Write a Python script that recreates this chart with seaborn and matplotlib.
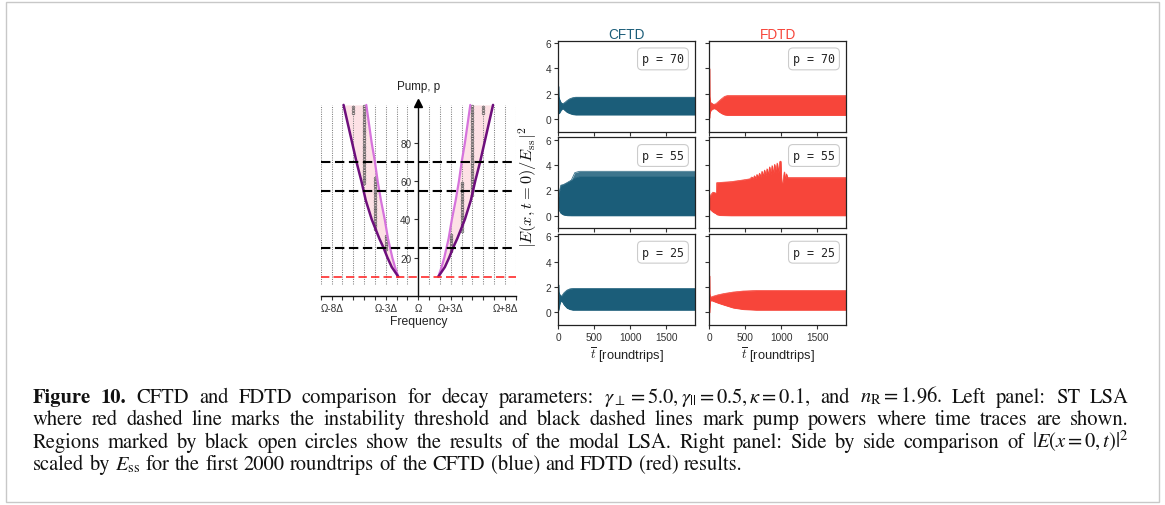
import numpy as np
import matplotlib
matplotlib.use("Agg")
import matplotlib.pyplot as plt
import seaborn as sns
from matplotlib.transforms import IdentityTransform
from matplotlib.patches import Rectangle

# ---------------- left panel: spatio-temporal LSA ----------------
pump_levels = [10, 15, 20, 25, 30, 40, 50, 60, 70, 80, 90, 100]
outer_boundary = [1.85, 2.45, 2.85, 3.2, 3.6, 4.3, 4.85, 5.25, 5.7, 6.1, 6.5, 6.9]
inner_boundary = [1.85, 2.15, 2.4, 2.6, 2.8, 3.1, 3.45, 3.75, 4.0, 4.3, 4.55, 4.8]
threshold_pump = 10
trace_pumps = [70, 55, 25]
# modal LSA unstable columns: (detuning / Delta, lowest pump, highest pump)
modal_columns = [(-6, 96, 100), (-5, 59, 100), (-4, 35, 62), (-3, 24.5, 31.5),
                 (6, 96, 100), (5, 53, 100), (4, 34, 60), (3, 23.5, 32)]
modal_pump_step = 1.4
freq_ticks = list(range(-9, 10))
freq_tick_labels = {-8: "Ω-8Δ", -3: "Ω-3Δ", 0: "Ω", 3: "Ω+3Δ", 8: "Ω+8Δ"}
pump_ticks = [20, 40, 60, 80]

# ---------------- right panel: time traces (envelopes) ----------------
cftd70_t = [0, 4, 15, 35, 60, 90, 120, 160, 200, 240, 1900]
cftd70_hi = [2.6, 1.75, 1.55, 1.3, 1.2, 1.3, 1.45, 1.6, 1.68, 1.72, 1.72]
cftd70_lo = [0.9, 0.45, 0.5, 0.7, 0.85, 0.7, 0.55, 0.45, 0.38, 0.35, 0.35]

fdtd70_t = [0, 3, 10, 30, 60, 90, 130, 170, 210, 250, 1900]
fdtd70_hi = [4.0, 1.8, 1.35, 1.25, 1.15, 1.2, 1.4, 1.6, 1.78, 1.85, 1.85]
fdtd70_lo = [0.1, 0.4, 0.6, 0.75, 0.85, 0.8, 0.6, 0.45, 0.35, 0.32, 0.32]

cftd55_t = [0, 10, 35, 70, 120, 180, 230, 300, 1900]
cftd55_hi = [1.3, 1.8, 2.4, 2.45, 2.6, 2.8, 3.4, 3.5, 3.5]
cftd55_core = [1.3, 1.8, 2.4, 2.45, 2.6, 2.8, 3.0, 3.1, 3.1]
cftd55_lo = [0.7, 0.45, 0.2, 0.08, 0.03, 0.02, 0.02, 0.02, 0.02]

fdtd55_t = [0, 20, 50, 80, 98, 102, 150, 300, 450, 560,
            590, 608, 625, 643, 660, 678, 695, 713, 730, 748, 765, 783,
            800, 818, 835, 853, 870, 888, 905, 923, 940, 958, 975, 990,
            1000, 1015, 1040, 1052, 1068, 1085, 1120, 1900]
fdtd55_hi = [1.4, 1.65, 1.85, 1.8, 1.75, 2.6, 2.62, 2.68, 2.8, 2.9,
             3.05, 2.9, 3.15, 2.95, 3.25, 3.0, 3.35, 3.05, 3.5, 3.1, 3.6, 3.15,
             3.7, 3.2, 3.85, 3.25, 3.95, 3.3, 4.05, 3.35, 4.15, 3.4, 4.25, 4.3,
             2.6, 2.55, 3.45, 2.8, 3.3, 3.0, 3.0, 3.0]
fdtd55_lo = [0.6, 0.45, 0.3, 0.2, 0.15, 0.1, 0.04, 0.02, 0.02, 0.02,
             0.02, 0.02, 0.02, 0.02, 0.02, 0.02, 0.02, 0.02, 0.02, 0.02, 0.02, 0.02,
             0.02, 0.02, 0.02, 0.02, 0.02, 0.02, 0.02, 0.02, 0.02, 0.02, 0.02, 0.02,
             0.02, 0.02, 0.02, 0.02, 0.02, 0.02, 0.02, 0.02]

cftd25_t = [0, 4, 15, 35, 55, 80, 120, 160, 200, 1900]
cftd25_hi = [2.2, 1.6, 1.45, 1.25, 1.35, 1.55, 1.75, 1.85, 1.88, 1.88]
cftd25_lo = [0.9, 0.2, 0.6, 0.93, 0.85, 0.6, 0.35, 0.25, 0.2, 0.2]

fdtd25_t = [0, 3, 10, 30, 60, 120, 200, 330, 470, 650, 1900]
fdtd25_hi = [2.9, 1.5, 1.2, 1.22, 1.28, 1.38, 1.48, 1.6, 1.68, 1.72, 1.72]
fdtd25_lo = [0.0, 0.3, 0.9, 0.95, 0.88, 0.75, 0.6, 0.37, 0.25, 0.2, 0.2]

solver_names = ["CFTD", "FDTD"]
solver_colors = {"CFTD": "#1b5d79", "FDTD": "#f7453a"}
traces = {
    (70, "CFTD"): (cftd70_t, cftd70_lo, cftd70_hi, None),
    (70, "FDTD"): (fdtd70_t, fdtd70_lo, fdtd70_hi, None),
    (55, "CFTD"): (cftd55_t, cftd55_lo, cftd55_hi, cftd55_core),
    (55, "FDTD"): (fdtd55_t, fdtd55_lo, fdtd55_hi, None),
    (25, "CFTD"): (cftd25_t, cftd25_lo, cftd25_hi, None),
    (25, "FDTD"): (fdtd25_t, fdtd25_lo, fdtd25_hi, None),
}
time_ticks = [0, 500, 1000, 1500]
field_ticks = [0, 2, 4, 6]

# ---------------- figure ----------------
sns.set_style("ticks")
plt.rcParams["font.family"] = ["Liberation Sans", "DejaVu Sans"]
plt.rcParams["mathtext.fontset"] = "stix"

W, H = 1165, 506
fig = plt.figure(figsize=(W / 100, H / 100), dpi=100)


def px_axes(x0, y0, x1, y1):
    """Axes from pixel box measured from the top-left corner."""
    return fig.add_axes([x0 / W, 1 - y1 / H, (x1 - x0) / W, (y1 - y0) / H])


# ---- left panel ----
ax = px_axes(320.8, 104.0, 515.8, 296.7)
ax.set_xlim(-9, 9)
ax.set_ylim(0, 101)
pink = "#fde1e5"
dark_purple = "#6e0f7c"
light_purple = "#d673dc"
outer = np.array(outer_boundary)
inner = np.array(inner_boundary)
for sgn in (-1, 1):
    ax.fill_betweenx(pump_levels, sgn * outer, sgn * inner, color=pink, lw=0, zorder=1)
ax.vlines([d for d in freq_ticks if d != 0], 6, 100, colors="#808080",
          linestyles=(0, (1, 1.2)), lw=0.75, zorder=1.5)
for sgn in (-1, 1):
    sns.lineplot(x=sgn * inner, y=pump_levels, sort=False, estimator=None,
                 color=light_purple, lw=1.6, ax=ax, zorder=3)
    sns.lineplot(x=sgn * outer, y=pump_levels, sort=False, estimator=None,
                 color=dark_purple, lw=1.8, ax=ax, zorder=3.2)
for d, p_lo, p_hi in modal_columns:
    pp = np.arange(p_lo, p_hi + 0.01, modal_pump_step)
    ax.plot(np.full_like(pp, d), pp, ls="none", marker="o", ms=1.9, mfc="none",
            mec="#555555", mew=0.5, zorder=2.5)
for p in trace_pumps:
    ax.axhline(p, color="black", lw=1.5, dashes=(4.5, 2.2), zorder=4)
ax.axhline(threshold_pump, color="#ff2b2b", lw=1.2, dashes=(5, 2.5), zorder=4)

ax.spines["top"].set_visible(False)
ax.spines["right"].set_visible(False)
ax.spines["left"].set_position(("data", 0))
for s in ("left", "bottom"):
    ax.spines[s].set_color("#111111")
    ax.spines[s].set_linewidth(1.0)
ax.plot([0], [1.0], marker="^", color="black", ms=5.5, transform=ax.get_xaxis_transform(),
        clip_on=False, zorder=6)
ax.set_xticks(freq_ticks)
ax.set_xticklabels([freq_tick_labels.get(d, "") for d in freq_ticks])
ax.set_yticks(pump_ticks)
ax.tick_params(axis="both", labelsize=7.2, colors="#333333", length=3, width=0.8, pad=2)
ax.set_xlabel("Frequency", fontsize=8.7, color="#222222", labelpad=2)
ax.set_ylabel("")
fig.text(418.3 / W, 1 - 87 / H, "Pump, p", fontsize=8.4, ha="center", va="center", color="#222222")

# ---- right panels: time traces ----
row_tops = [41.7, 138.3, 235.0]
row_h = 91.0
col_lefts = [558.3, 709.3]
col_w = 137.0
for r, p in enumerate(trace_pumps):
    for c, name in enumerate(solver_names):
        x0 = col_lefts[c]
        y0 = row_tops[r]
        axr = px_axes(x0, y0, x0 + col_w, y0 + row_h)
        t, lo, hi, core = traces[(p, name)]
        col = solver_colors[name]
        if core is None:
            axr.fill_between(t, lo, hi, color=col, lw=0.6, edgecolor=col)
        else:
            axr.fill_between(t, lo, core, color=col, lw=0.6, edgecolor=col)
            axr.fill_between(t, core, hi, color=col, lw=0, alpha=0.85)
        sns.lineplot(x=t, y=hi, color=col, lw=0.5, ax=axr, estimator=None)
        sns.lineplot(x=t, y=lo, color=col, lw=0.5, ax=axr, estimator=None)
        axr.set_xlim(0, 1900)
        axr.set_ylim(-1, 6.18)
        axr.set_xticks(time_ticks)
        axr.set_yticks(field_ticks)
        axr.tick_params(labelsize=7.3, colors="#333333", length=3.2, width=0.8, pad=2)
        for s in axr.spines.values():
            s.set_color("#222222")
            s.set_linewidth(0.9)
        if c == 1:
            axr.tick_params(labelleft=False)
        if r < 2:
            axr.tick_params(labelbottom=False)
        else:
            axr.set_xlabel(r"$\overline{t}$ [roundtrips]", fontsize=9.3, color="#222222",
                           labelpad=2, math_fontfamily="cm")
        if r == 0:
            axr.set_title(name, color=col, fontsize=9.8, pad=1.2)
        axr.text(0.764, 0.80, f"p = {p}", transform=axr.transAxes, ha="center", va="center",
                 family="DejaVu Sans Mono", fontsize=8.4, color="#222222",
                 bbox=dict(boxstyle="round,pad=0.38", fc="white", ec="#cccccc", lw=0.8),
                 zorder=10)

fig.text(528 / W, 1 - 187 / H, r"$|E(x,t=0)/E_{\mathrm{ss}}|^2$", rotation=90,
         ha="center", va="center", fontsize=11.8, math_fontfamily="cm", color="#111111")

# ---- caption ----
cap_size = 14.8
cap_x0, cap_x1 = 33.0, 1128.5
cap_baselines = [402.7, 425.3, 447.8, 470.4]
cap_lines = [
    ([("Figure", "bold"), ("10.", "bold"), "CFTD", "and", "FDTD", "comparison", "for",
      "decay", "parameters:", r"$\gamma_\perp=5.0,\gamma_{||}=0.5,\kappa=0.1$,", "and",
      r"$n_\mathrm{R}=1.96$.", "Left", "panel:", "ST", "LSA"], True),
    ("where red dashed line marks the instability threshold and black dashed lines mark "
     "pump powers where time traces are shown.".split(), True),
    ("Regions marked by black open circles show the results of the modal LSA. Right "
     "panel: Side by side comparison of".split() + [r"$|E(x=0,t)|^2$"], True),
    (["scaled", "by", r"$E_\mathrm{ss}$"] +
     "for the first 2000 roundtrips of the CFTD (blue) and FDTD (red) results.".split(), False),
]
renderer = fig.canvas.get_renderer()
ident = IdentityTransform()


def make_word(tok):
    if isinstance(tok, tuple):
        s, weight = tok
    else:
        s, weight = tok, "normal"
    return fig.text(0, 0, s, fontsize=cap_size, family="STIXGeneral", fontweight=weight,
                    transform=ident, va="baseline", ha="left", color="#111111")


probe_a = fig.text(0, 0, "a a", fontsize=cap_size, family="STIXGeneral", transform=ident)
probe_b = fig.text(0, 0, "aa", fontsize=cap_size, family="STIXGeneral", transform=ident)
space_w = (probe_a.get_window_extent(renderer).width
           - probe_b.get_window_extent(renderer).width) * 1.05
probe_a.remove()
probe_b.remove()

for (tokens, justify), base in zip(cap_lines, cap_baselines):
    words = [make_word(tk) for tk in tokens]
    widths = [w.get_window_extent(renderer).width for w in words]
    if justify:
        gap = (cap_x1 - cap_x0 - sum(widths)) / (len(words) - 1)
    else:
        gap = space_w
    x = cap_x0
    for w, wd in zip(words, widths):
        w.set_position((x, H - base))
        x += wd + gap

fig.patches.append(Rectangle((6 / W, 3 / H), (1159 - 6) / W, (503 - 3) / H, fill=False,
                             ec="#c8c8c8", lw=1.0, transform=fig.transFigure))

fig.savefig("out.png", dpi=100, facecolor="white")
